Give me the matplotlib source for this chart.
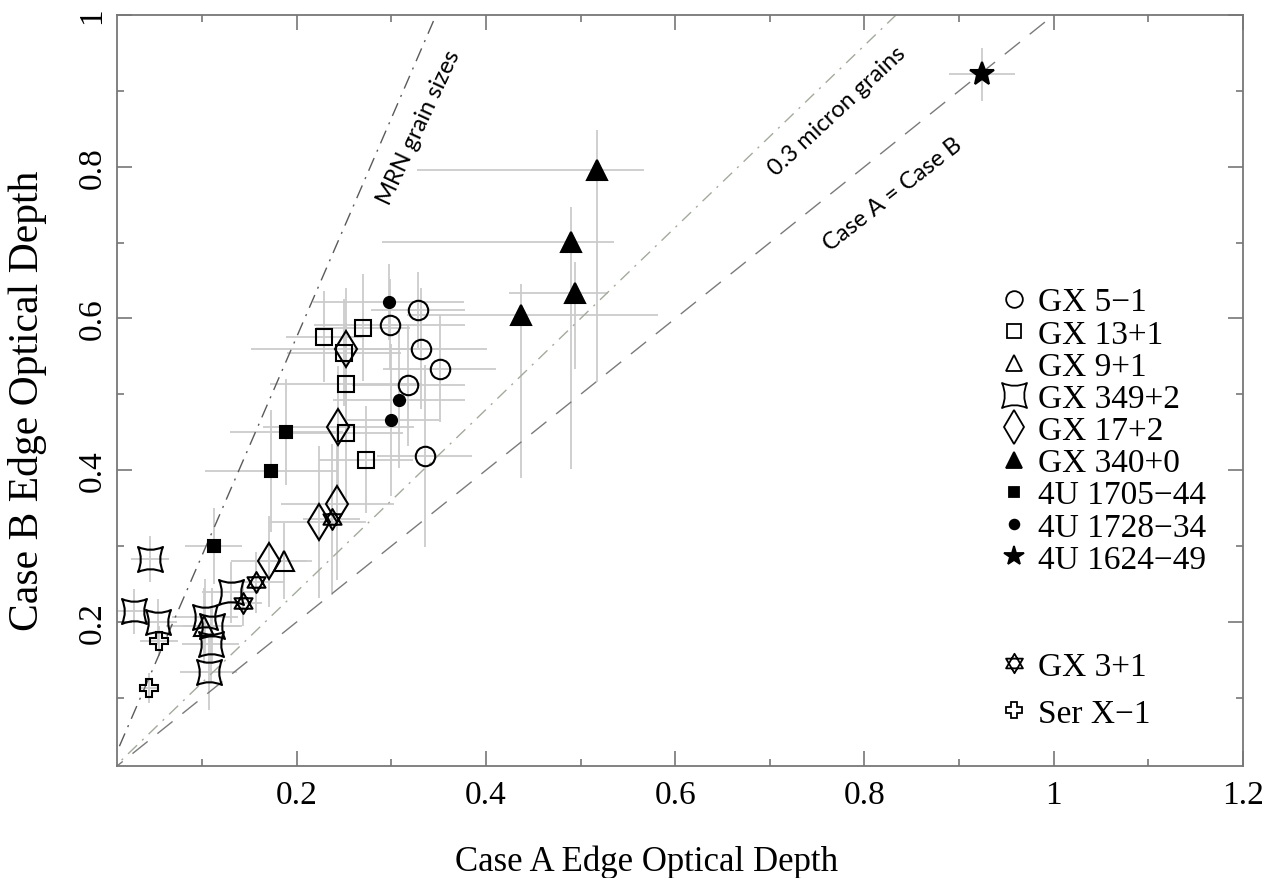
import numpy as np
import matplotlib
matplotlib.use('Agg')
import matplotlib.pyplot as plt
from matplotlib.path import Path
from matplotlib.lines import Line2D
from matplotlib.ticker import FixedLocator, FixedFormatter, MultipleLocator

# Case A / Case B edge optical depths
gx51_x = [0.328, 0.298, 0.331, 0.351, 0.318, 0.335]
gx51_y = [0.611, 0.592, 0.560, 0.534, 0.512, 0.419]
gx51_xerr = [0.05, 0.08, 0.07, 0.06, 0.06, 0.05]
gx51_yerr = [0.05, 0.06, 0.08, 0.07, 0.08, 0.12]

gx131_x = [0.229, 0.270, 0.250, 0.252, 0.252, 0.273]
gx131_y = [0.576, 0.588, 0.555, 0.514, 0.449, 0.414]
gx131_xerr = [0.04, 0.05, 0.06, 0.08, 0.06, 0.05]
gx131_yerr = [0.06, 0.07, 0.07, 0.08, 0.09, 0.07]

gx91_x = [0.186, 0.102]
gx91_y = [0.280, 0.195]
gx91_xerr = [0.03, 0.04]
gx91_yerr = [0.05, 0.05]

gx349_x = [0.045, 0.028, 0.053, 0.103, 0.110, 0.109, 0.107, 0.130]
gx349_y = [0.283, 0.214, 0.200, 0.206, 0.195, 0.171, 0.134, 0.239]
gx349_xerr = [0.02, 0.02, 0.02, 0.035, 0.03, 0.03, 0.03, 0.03]
gx349_yerr = [0.03, 0.03, 0.03, 0.05, 0.05, 0.05, 0.05, 0.04]

gx172_x = [0.252, 0.244, 0.243, 0.223, 0.171]
gx172_y = [0.560, 0.457, 0.355, 0.332, 0.280]
gx172_xerr = [0.10, 0.08, 0.06, 0.05, 0.04]
gx172_yerr = [0.08, 0.08, 0.10, 0.10, 0.06]

gx340_x = [0.517, 0.490, 0.494, 0.437]
gx340_y = [0.796, 0.701, 0.634, 0.605]
gx340_xerr = [[0.19, 0.20, 0.07, 0.12], [0.05, 0.045, 0.035, 0.145]]
gx340_yerr = [[0.28, 0.30, 0.10, 0.215], [0.053, 0.046, 0.04, 0.04]]

u1705_x = [0.189, 0.173, 0.112]
u1705_y = [0.450, 0.399, 0.300]
u1705_xerr = [0.06, 0.07, 0.03]
u1705_yerr = [0.07, 0.08, 0.05]

u1728_x = [0.297, 0.308, 0.300]
u1728_y = [0.622, 0.493, 0.466]
u1728_xerr = [0.08, 0.07, 0.05]
u1728_yerr = [0.05, 0.09, 0.10]

u1624_x = [0.924]
u1624_y = [0.922]
u1624_xerr = [0.035]
u1624_yerr = [0.035]

gx31_x = [0.237, 0.157, 0.143]
gx31_y = [0.335, 0.252, 0.225]
gx31_xerr = [0.03, 0.03, 0.02]
gx31_yerr = [0.10, 0.04, 0.03]

serx1_x = [0.054, 0.044]
serx1_y = [0.175, 0.113]
serx1_xerr = [0.02, 0.01]
serx1_yerr = [0.02, 0.02]

# model lines: Case B = slope * Case A
mrn_slope = 2.88
micron_slope = 1.2
equal_slope = 1.0

# custom markers
astroid = Path(
    [(-1, -1), (0, -0.55), (1, -1), (0.55, 0), (1, 1), (0, 0.55), (-1, 1), (-0.55, 0), (-1, -1), (-1, -1)],
    [Path.MOVETO, Path.CURVE3, Path.CURVE3, Path.CURVE3, Path.CURVE3,
     Path.CURVE3, Path.CURVE3, Path.CURVE3, Path.CURVE3, Path.CLOSEPOLY])
s3 = np.sqrt(3) / 2
hexagram = Path(
    [(0, 1), (-s3, -0.5), (s3, -0.5), (0, 1), (0, -1), (-s3, 0.5), (s3, 0.5), (0, -1)],
    [Path.MOVETO, Path.LINETO, Path.LINETO, Path.CLOSEPOLY,
     Path.MOVETO, Path.LINETO, Path.LINETO, Path.CLOSEPOLY])

W = 'none'
K = 'black'
series = [
    ('GX 5\u22121', gx51_x, gx51_y, gx51_xerr, gx51_yerr, dict(marker='o', ms=14, mfc=W), 12),
    ('GX 13+1', gx131_x, gx131_y, gx131_xerr, gx131_yerr, dict(marker='s', ms=12, mfc=W), 10),
    ('GX 9+1', gx91_x, gx91_y, gx91_xerr, gx91_yerr, dict(marker='^', ms=14, mfc=W), 12),
    ('GX 349+2', gx349_x, gx349_y, gx349_xerr, gx349_yerr, dict(marker=astroid, ms=18, mfc=W), 18),
    ('GX 17+2', gx172_x, gx172_y, gx172_xerr, gx172_yerr, dict(marker='d', ms=18, mfc=W), 17),
    ('GX 340+0', gx340_x, gx340_y, gx340_xerr, gx340_yerr, dict(marker='^', ms=14, mfc=K), 11),
    ('4U 1705\u221244', u1705_x, u1705_y, u1705_xerr, u1705_yerr, dict(marker='s', ms=8, mfc=K), 7),
    ('4U 1728\u221234', u1728_x, u1728_y, u1728_xerr, u1728_yerr, dict(marker='o', ms=8, mfc=K), 7),
    ('4U 1624\u221249', u1624_x, u1624_y, u1624_xerr, u1624_yerr, dict(marker='*', ms=18, mfc=K), 15),
    ('GX 3+1', gx31_x, gx31_y, gx31_xerr, gx31_yerr, dict(marker=hexagram, ms=15, mfc=W), 14),
    ('Ser X\u22121', serx1_x, serx1_y, serx1_xerr, serx1_yerr, dict(marker='P', ms=13, mfc=W), 11),
]

fig = plt.figure(figsize=(12.83, 8.79), dpi=100)
ax = fig.add_axes([0.0912, 0.1274, 0.8776, 0.8544])

for label, x, y, xe, ye, st, _ in series:
    ax.errorbar(x, y, xerr=xe, yerr=ye, fmt='none', ecolor='#cbcbcb', elinewidth=1.3, zorder=1)
for label, x, y, xe, ye, st, _ in series:
    ax.plot(x, y, linestyle='none', mec='black', mew=1.5, zorder=3, **st)

xs = np.array([0, 1.2])
ax.plot(xs, mrn_slope * xs, color='#5a5a5a', lw=1.0, dashes=(10, 5, 1.5, 5), zorder=2)
ax.plot(xs, micron_slope * xs, color='#a3ab9c', lw=1.0, dashes=(9, 5, 1.5, 5), zorder=2)
ax.plot(xs, equal_slope * xs, color='#7a7a7a', lw=1.0, dashes=(14, 9), zorder=2)

ann = dict(family='Lato', fontsize=17, ha='center', va='center', rotation_mode='anchor')
ax.text(0.329, 0.853, 'MRN grain sizes', rotation=65, **ann)
ax.text(0.771, 0.874, '0.3 micron grains', rotation=43, **ann)
ax.text(0.830, 0.764, 'Case A = Case B', rotation=38, **ann)

ax.set_xlim(0.01, 1.2)
ax.set_ylim(0.01, 1.0)
ax.xaxis.set_major_locator(FixedLocator([0.2, 0.4, 0.6, 0.8, 1.0, 1.2]))
ax.xaxis.set_major_formatter(FixedFormatter(['0.2', '0.4', '0.6', '0.8', '1', '1.2']))
ax.yaxis.set_major_locator(FixedLocator([0.2, 0.4, 0.6, 0.8, 1.0]))
ax.yaxis.set_major_formatter(FixedFormatter(['0.2', '0.4', '0.6', '0.8', '1']))
ax.xaxis.set_minor_locator(MultipleLocator(0.1))
ax.yaxis.set_minor_locator(MultipleLocator(0.1))
ax.tick_params(which='both', direction='in', top=True, right=True, color='#777777', width=1.2)
ax.tick_params(which='major', length=11, labelsize=24, pad=10)
ax.tick_params(axis='y', which='major', pad=7)
ax.tick_params(which='minor', length=5)
for t in ax.get_xticklabels() + ax.get_yticklabels():
    t.set_family('Liberation Serif')
for t in ax.get_yticklabels():
    t.set_rotation(90)
    t.set_va('center')
for s in ax.spines.values():
    s.set_color('#777777')
    s.set_linewidth(1.3)

ax.set_xlabel('Case A Edge Optical Depth', family='Liberation Serif', fontsize=25)
ax.set_ylabel('Case B Edge Optical Depth', family='Liberation Serif', fontsize=30)
ax.xaxis.set_label_coords(0.47, -0.105)
ax.yaxis.set_label_coords(-0.062, 0.487)

handles = [Line2D([], [], linestyle='none', mec='black', mew=1.3, **dict(st, ms=lms))
           for _, _, _, _, _, st, lms in series]
labels = [s[0] for s in series]
leg_kw = dict(frameon=False, prop={'family': 'Liberation Serif', 'size': 24},
              handlelength=0.8, handletextpad=0.3, borderpad=0, borderaxespad=0)
leg1 = ax.legend(handles[:9], labels[:9], loc='upper left', bbox_to_anchor=(0.785, 0.638),
                 labelspacing=0.05, **leg_kw)
ax.add_artist(leg1)
ax.legend(handles[9:], labels[9:], loc='upper left', bbox_to_anchor=(0.785, 0.153),
          labelspacing=0.5, **leg_kw)

fig.savefig('out.png', dpi=100)
